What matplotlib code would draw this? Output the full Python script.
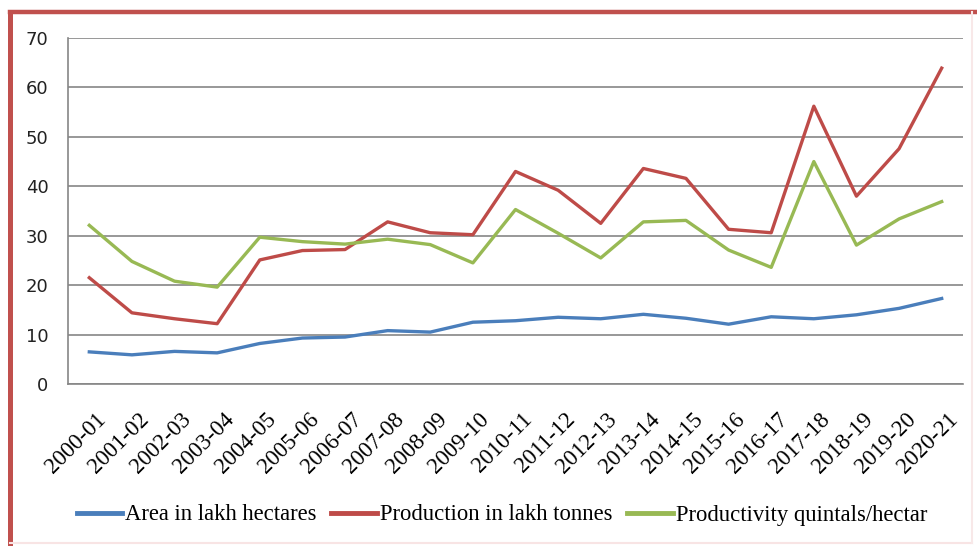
import matplotlib
matplotlib.use("Agg")
import matplotlib.pyplot as plt
from matplotlib.lines import Line2D
import matplotlib.transforms as mtransforms
import numpy as np

years = ["2000-01", "2001-02", "2002-03", "2003-04", "2004-05", "2005-06", "2006-07",
         "2007-08", "2008-09", "2009-10", "2010-11", "2011-12", "2012-13", "2013-14",
         "2014-15", "2015-16", "2016-17", "2017-18", "2018-19", "2019-20", "2020-21"]
area = [6.5, 5.9, 6.6, 6.3, 8.2, 9.3, 9.5, 10.8, 10.5, 12.5, 12.8, 13.5, 13.2, 14.1,
        13.3, 12.1, 13.6, 13.2, 14.0, 15.3, 17.3]
production = [21.5, 14.4, 13.2, 12.2, 25.1, 27.0, 27.2, 32.8, 30.6, 30.2, 43.0, 39.2,
              32.5, 43.6, 41.6, 31.3, 30.6, 56.2, 38.0, 47.6, 63.9]
productivity = [32.1, 24.8, 20.8, 19.6, 29.7, 28.8, 28.3, 29.3, 28.2, 24.5, 35.3, 30.5,
                25.5, 32.8, 33.1, 27.1, 23.6, 45.0, 28.1, 33.4, 36.9]
labels = ["Area in lakh hectares", "Production in lakh tonnes", "Productivity quintals/hectar"]
colors = ["#4A7EBB", "#BE4B48", "#98B954"]

W, H = 978, 546
fig = plt.figure(figsize=(W / 100, H / 100), dpi=100)
fig.patch.set_facecolor("white")

# red frame (top and left) with faint right/bottom
fig.add_artist(Line2D([10 / W, 1.0], [1 - 12 / H, 1 - 12 / H], color="#C0504D", lw=3.2,
                      transform=fig.transFigure))
fig.add_artist(Line2D([10 / W, 10 / W], [0, 1 - 12 / H], color="#C0504D", lw=3.6,
                      transform=fig.transFigure))
fig.add_artist(Line2D([10 / W, 972 / W], [3 / H, 3 / H], color="#F8E4E4", lw=1.5,
                      transform=fig.transFigure))
fig.add_artist(Line2D([972 / W, 972 / W], [3 / H, 1 - 12 / H], color="#F8E8E8", lw=1.5,
                      transform=fig.transFigure))

ax = fig.add_axes([68 / W, (H - 384) / H, 895 / W, (384 - 38) / H])
x = np.arange(len(years))
series = [area, production, productivity]
for s, c, l in zip(series, colors, labels):
    ax.plot(x, s, color=c, lw=2.4, label=l, solid_joinstyle="round", zorder=3)

ax.set_xlim(-0.5, len(years) - 0.5)
ax.set_ylim(0, 70)
ax.set_yticks(range(0, 71, 10))
ax.yaxis.grid(True, color="#868686", lw=1.2)
ax.set_axisbelow(True)
for sp in ["top", "right"]:
    ax.spines[sp].set_visible(False)
for sp in ["left", "bottom"]:
    ax.spines[sp].set_color("#868686")
    ax.spines[sp].set_linewidth(1.2)
ax.tick_params(axis="both", length=0)
ax.tick_params(axis="y", pad=14, labelsize=13, labelcolor="#222222")
ax.set_xticks(x)
ax.set_xticklabels(years, rotation=45, ha="right", rotation_mode="anchor",
                   fontfamily="Liberation Serif", fontsize=16.5)
ax.tick_params(axis="x", pad=18)
offset = mtransforms.ScaledTranslation(6 / 100, 0, fig.dpi_scale_trans)
for t in ax.get_xticklabels():
    t.set_transform(t.get_transform() + offset)
for t in ax.get_yticklabels():
    t.set_fontfamily("DejaVu Sans")

leg = fig.legend(loc="center", bbox_to_anchor=(502 / W, (H - 515) / H), ncol=3, frameon=False,
                 prop={"family": "Liberation Serif", "size": 16.3}, handlelength=2.0,
                 handletextpad=0.15, columnspacing=0.65)
for lh in leg.get_lines():
    lh.set_linewidth(3.5)

fig.savefig("out.png", dpi=100, facecolor="white")
